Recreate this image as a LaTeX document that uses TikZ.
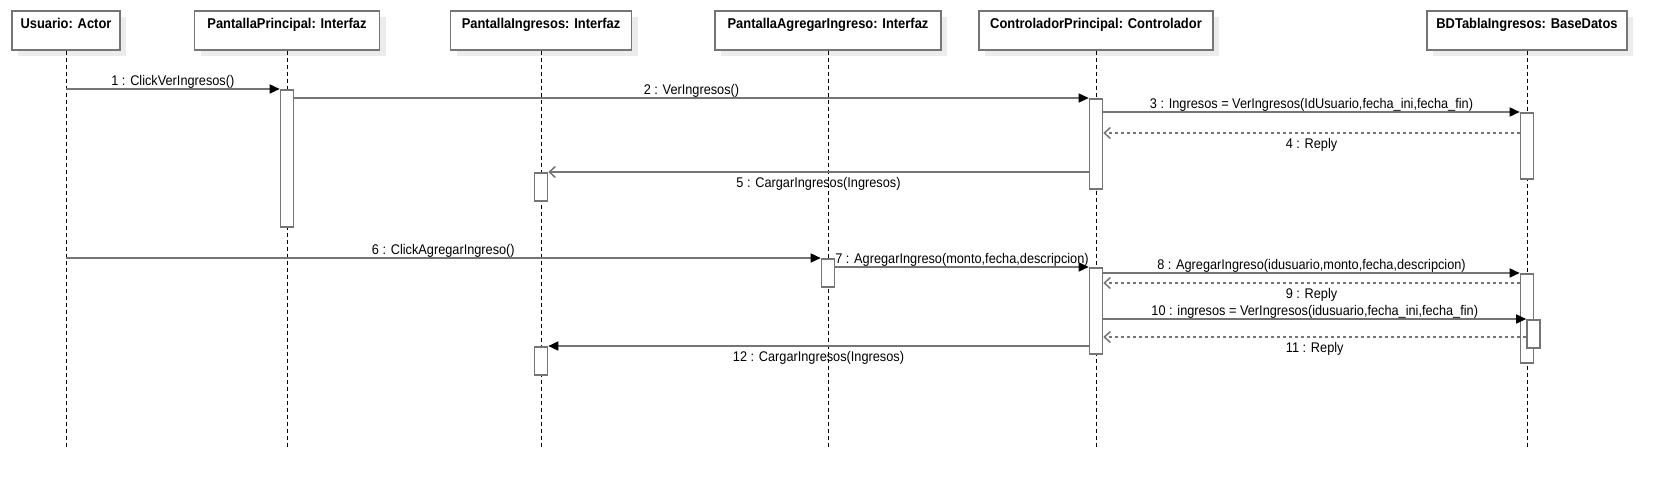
\documentclass[tikz,border=0pt]{standalone}
\usepackage{fontspec}
\setmainfont{Liberation Sans}[FakeStretch=0.91]
\usetikzlibrary{arrows.meta,shadows}
\definecolor{linegray}{HTML}{757575}
\definecolor{shadowgray}{HTML}{ECECEC}

\begin{document}
\begin{tikzpicture}[x=1pt,y=-1pt,font=\fontsize{14}{16}\selectfont,
    objbox/.style={draw=linegray,line width=1.6pt,fill=white,text=black,anchor=north,minimum width=#1,minimum height=39pt,
      inner xsep=0pt,inner ysep=0pt,text height=18pt,text depth=21pt,font=\fontsize{14.2}{16}\selectfont\bfseries,
      drop shadow={shadow xshift=6pt,shadow yshift=-6pt,fill=shadowgray,opacity=1}},
    lifeline/.style={black,line width=0.9pt,dash pattern=on 4pt off 3pt},
    actbar/.style={draw=linegray,line width=1.6pt,fill=white,anchor=north,minimum width=13pt,minimum height=#1,inner sep=0pt},
    msg/.style={linegray,line width=1.5pt,-{Triangle[length=10pt,width=9pt,color=black]}},
    openmsg/.style={linegray,line width=1.5pt,-{Straight Barb[length=6pt,width=11pt]}},
    reply/.style={openmsg,dash pattern=on 3pt off 3pt},
    txtup/.style={midway,anchor=base,yshift=4pt,text=black},
    txtdown/.style={midway,anchor=base,yshift=-15.5pt,text=black}]
  \useasboundingbox (0,0) rectangle (1666,490);
  \node[objbox=108pt] (usuario) at (66,10) {Usuario: Actor};
  \node[objbox=185pt] (principal) at (287,10) {PantallaPrincipal: Interfaz};
  \node[objbox=181pt] (ingresos) at (541,10) {PantallaIngresos: Interfaz};
  \node[objbox=226pt] (agregar) at (828,10) {PantallaAgregarIngreso: Interfaz};
  \node[objbox=234pt] (control) at (1096,10) {ControladorPrincipal: Controlador};
  \node[objbox=200pt] (bd) at (1527,10) {BDTablaIngresos: BaseDatos};
  \coordinate (fin) at (0,449);
  \foreach \n in {usuario,principal,ingresos,agregar,control,bd} { \draw[lifeline] (\n.south) -- (\n.south |- fin); }

  \node[actbar=137pt] (actP1) at (287,89) {}; \node[actbar=90pt] (actC1) at (1096,98) {};
  \node[actbar=66pt] (actB1) at (1527,112) {}; \node[actbar=28pt] (actI1) at (541,172) {};
  \node[actbar=28pt] (actA1) at (828,258) {}; \node[actbar=86pt] (actC2) at (1096,267) {};
  \node[actbar=89pt] (actB2) at (1527,273) {}; \node[actbar=28pt] (actB3) at (1533.5,319) {};
  \node[actbar=28pt] (actI2) at (541,346) {};

  \draw[msg] (usuario |- actP1.north) -- (actP1.north west) node[txtup] {1 : ClickVerIngresos()};
  \draw[msg] (actP1.east |- actC1.north) -- (actC1.north west) node[txtup] {2 : VerIngresos()};
  \draw[msg] (actC1.east |- actB1.north) -- (actB1.north west) node[txtup] {3 : Ingresos = VerIngresos(IdUsuario,fecha\_ini,fecha\_fin)};
  \draw[reply] (actB1.west |- 0,133) -- (actC1.east |- 0,133) node[txtdown] {4 : Reply};
  \draw[openmsg] (actC1.west |- actI1.north) -- (actI1.north east) node[txtdown] {5 : CargarIngresos(Ingresos)};
  \draw[msg] (usuario |- actA1.north) -- (actA1.north west) node[txtup] {6 : ClickAgregarIngreso()};
  \draw[msg] (actA1.east |- actC2.north) -- (actC2.north west) node[txtup] {7 : AgregarIngreso(monto,fecha,descripcion)};
  \draw[msg] (actC2.east |- actB2.north) -- (actB2.north west) node[txtup] {8 : AgregarIngreso(idusuario,monto,fecha,descripcion)};
  \draw[reply] (actB2.west |- 0,283) -- (actC2.east |- 0,283) node[txtdown] {9 : Reply};
  \draw[msg] (actC2.east |- actB3.north) -- (actB3.north west) node[txtup] {10 : ingresos = VerIngresos(idusuario,fecha\_ini,fecha\_fin)};
  \draw[reply] (actB3.west |- 0,337) -- (actC2.east |- 0,337) node[txtdown] {11 : Reply};
  \draw[msg] (actC2.west |- actI2.north) -- (actI2.north east) node[txtdown] {12 : CargarIngresos(Ingresos)};
\end{tikzpicture}
\end{document}
